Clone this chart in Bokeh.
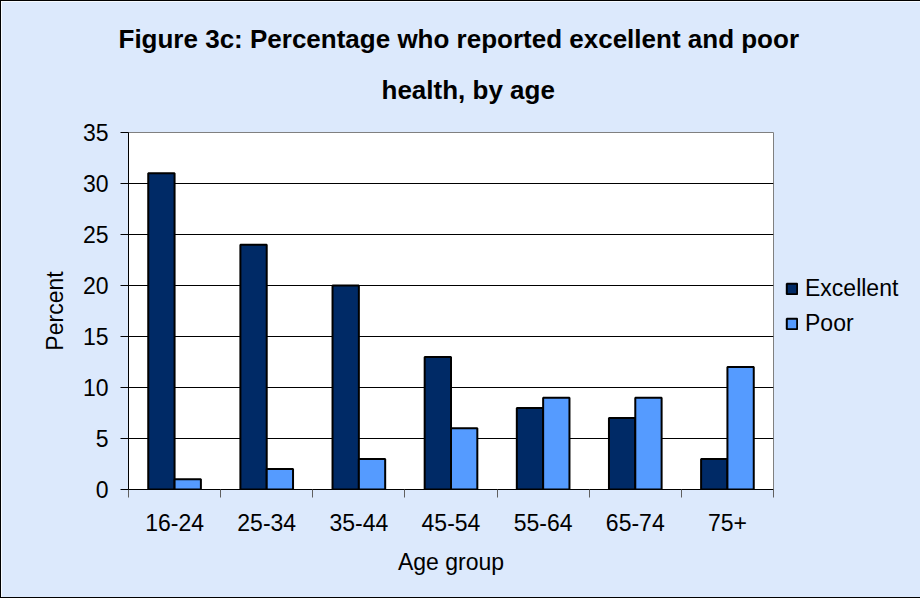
from bokeh.plotting import figure
from bokeh.models import (ColumnDataSource, Range1d, FixedTicker, Legend, LegendItem, Title)
from bokeh.embed import file_html
from bokeh.resources import INLINE

categories = ["16-24", "25-34", "35-44", "45-54", "55-64", "65-74", "75+"]
excellent = [31, 24, 20, 13, 8, 7, 3]
poor = [1, 2, 3, 6, 9, 9, 12]
y_ticks = [0, 5, 10, 15, 20, 25, 30, 35]
title_lines = ["Figure 3c: Percentage who reported excellent and poor", "health, by age"]

BG = "#DCE9FC"
C_EXC = "#002A66"
C_POOR = "#559BFF"
FONT = "Liberation Sans"
FS = "23px"

n = len(categories)
bar_w = 1 / 3.5
centers = [i + 0.5 for i in range(n)]
boundaries = list(range(n + 1))
src = ColumnDataSource(dict(
    xe=[c - bar_w / 2 for c in centers],
    xp=[c + bar_w / 2 for c in centers],
    exc=excellent, poor=poor, cat=categories))

p = figure(frame_width=645, frame_height=357, output_backend="svg", toolbar_location=None,
           x_range=Range1d(0, n), y_range=Range1d(0, 35), title=None,
           min_border_left=127, min_border_right=145, min_border_top=131, min_border_bottom=108)
p.styles = {"border": "1px solid black"}
p.background_fill_color = "white"
p.border_fill_color = BG
p.outline_line_color = "#808080"
p.outline_line_width = 1

r1 = p.vbar(x="xe", top="exc", width=bar_w, source=src, fill_color=C_EXC,
            line_color="black", line_width=2)
r2 = p.vbar(x="xp", top="poor", width=bar_w, source=src, fill_color=C_POOR,
            line_color="black", line_width=2)

# Title (two centred lines)
t2 = Title(text=title_lines[1], align="left", offset=253, standoff=51, vertical_align="top",
           text_font=FONT, text_font_size="26px", text_font_style="bold", text_color="black")
t1 = Title(text=title_lines[0], align="left", offset=-10, standoff=-12, vertical_align="top",
           text_font=FONT, text_font_size="26px", text_font_style="bold", text_color="black")
p.add_layout(t2, "above")
p.add_layout(t1, "above")

# Y axis
yax = p.yaxis[0]
yax.ticker = FixedTicker(ticks=y_ticks)
yax.axis_label = "Percent"
yax.axis_label_text_font = FONT
yax.axis_label_text_font_size = FS
yax.axis_label_text_font_style = "normal"
yax.axis_label_text_color = "black"
yax.axis_label_standoff = 12
yax.major_label_text_font = FONT
yax.major_label_text_font_size = FS
yax.major_label_text_color = "black"
yax.major_label_standoff = 12
yax.major_tick_out = 8
yax.major_tick_in = 0
yax.minor_tick_line_color = None
yax.axis_line_color = "black"
yax.major_tick_line_color = "black"

p.xgrid.grid_line_color = None
p.ygrid.ticker = FixedTicker(ticks=y_ticks)
p.ygrid.grid_line_color = "black"
p.ygrid.grid_line_width = 1

# X axis: labels at centers, ticks (minor) at boundaries
xax = p.xaxis[0]
xax.ticker = FixedTicker(ticks=centers, minor_ticks=boundaries)
xax.major_label_overrides = {c: cat for c, cat in zip(centers, categories)}
xax.major_tick_line_color = None
xax.major_tick_out = 0
xax.major_tick_in = 0
xax.minor_tick_out = 8
xax.minor_tick_in = 0
xax.minor_tick_line_color = "#606060"
xax.axis_line_color = "black"
xax.major_label_text_font = FONT
xax.major_label_text_font_size = FS
xax.major_label_text_color = "black"
xax.major_label_standoff = 16
xax.axis_label = "Age group"
xax.axis_label_text_font = FONT
xax.axis_label_text_font_size = FS
xax.axis_label_text_font_style = "normal"
xax.axis_label_text_color = "black"
xax.axis_label_standoff = 15

legend = Legend(items=[LegendItem(label="Excellent", renderers=[r1]),
                       LegendItem(label="Poor", renderers=[r2])],
                location=(12, 152), orientation="vertical")
legend.background_fill_alpha = 0
legend.border_line_color = None
legend.label_text_font = FONT
legend.label_text_font_size = FS
legend.label_text_color = "black"
legend.glyph_width = 13
legend.glyph_height = 13
legend.spacing = 8
legend.label_standoff = 7
legend.margin = 0
legend.padding = 10
p.add_layout(legend, "right")

open("out.html", "w").write(file_html(p, INLINE))
